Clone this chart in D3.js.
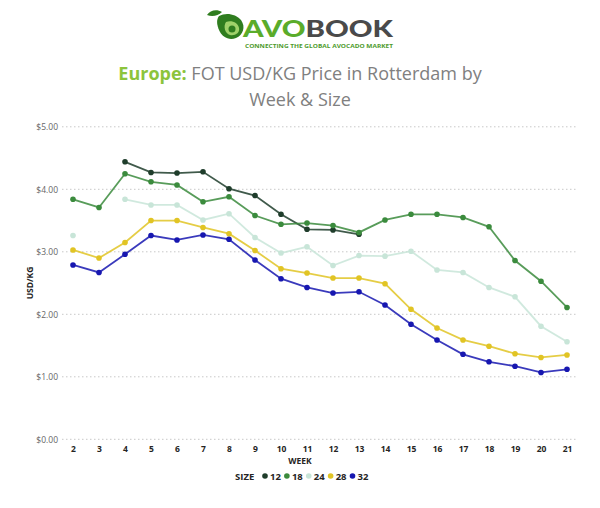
<!DOCTYPE html>
<html>
<head>
<meta charset="utf-8">
<script src="https://cdn.jsdelivr.net/npm/d3@7"></script>
<style>
  body { margin: 0; background: #fff; }
  svg { display: block; font-family: "Open Sans", "Noto Sans", sans-serif; }
</style>
</head>
<body>
<div id="chart"></div>
<script>
// chart data
var weeks = [2, 3, 4, 5, 6, 7, 8, 9, 10, 11, 12, 13, 14, 15, 16, 17, 18, 19, 20, 21];
var sizes = ["12", "18", "24", "28", "32"];
var size12 = [null, null, 4.44, 4.27, 4.26, 4.28, 4.01, 3.90, 3.60, 3.36, 3.35, 3.28, null, null, null, null, null, null, null, null];
var size18 = [3.84, 3.71, 4.25, 4.12, 4.07, 3.80, 3.88, 3.58, 3.44, 3.46, 3.42, 3.31, 3.51, 3.60, 3.60, 3.55, 3.40, 2.86, 2.53, 2.11];
var size24 = [3.26, null, 3.84, 3.75, 3.75, 3.51, 3.61, 3.23, 2.98, 3.08, 2.78, 2.94, 2.93, 3.01, 2.71, 2.67, 2.43, 2.28, 1.81, 1.56];
var size28 = [3.03, 2.90, 3.15, 3.50, 3.50, 3.39, 3.29, 3.02, 2.73, 2.66, 2.58, 2.58, 2.49, 2.08, 1.78, 1.59, 1.49, 1.37, 1.31, 1.35];
var size32 = [2.79, 2.67, 2.96, 3.26, 3.19, 3.27, 3.20, 2.87, 2.57, 2.43, 2.34, 2.36, 2.15, 1.84, 1.59, 1.36, 1.24, 1.17, 1.07, 1.12];
var yTicks = [0, 1, 2, 3, 4, 5];

var seriesValues = [size12, size18, size24, size28, size32];
var colors = ["#1f3d2b", "#3b8b3d", "#c8e5d8", "#e1c424", "#1717b0"];

var W = 600, H = 508;
var margin = {top: 127, right: 24, bottom: 69, left: 62};

var svg = d3.select("#chart")
  .append("svg")
    .attr("width", W)
    .attr("height", H);

// logo
var logo = svg.append("g");
logo.append("path")
  .attr("d", "M207,15 C210,10 217,9 222,12 C218,16 212,17 207,15 Z")
  .style("fill", "#2f7d1f");
logo.append("path")
  .attr("d", "M219,16 C226,12 236,14 241,20 C246,27 243,35 236,38 C229,41 222,37 219,30 C217,25 216,20 219,16 Z")
  .style("fill", "#2f7d1f");
logo.append("path")
  .attr("d", "M226,22 C232,20 238,23 239,28 C240,33 235,36 230,35 C225,34 223,26 226,22 Z")
  .style("fill", "#9fd16a");
logo.append("circle")
  .attr("cx", 232).attr("cy", 29).attr("r", 3.5)
  .style("fill", "#2f7d1f");
var logoText = logo.append("text")
  .attr("x", 243)
  .attr("y", 36.5)
  .attr("textLength", 150)
  .attr("lengthAdjust", "spacingAndGlyphs")
  .style("font-family", "Lato, 'Open Sans', sans-serif")
  .style("font-weight", "900")
  .style("font-size", "22px");
logoText.append("tspan").text("AVO").style("fill", "#5aac2a");
logoText.append("tspan").text("BOOK").style("fill", "#4a4a4a");
logo.append("text")
  .attr("x", 245)
  .attr("y", 47.5)
  .attr("textLength", 148)
  .attr("lengthAdjust", "spacingAndGlyphs")
  .style("font-weight", "700")
  .style("font-size", "5.6px")
  .style("fill", "#4c9a2a")
  .text("CONNECTING THE GLOBAL AVOCADO MARKET");

// title
var title = svg.append("text")
  .attr("x", 300)
  .attr("y", 80)
  .attr("text-anchor", "middle")
  .style("font-size", "18px")
  .style("fill", "#808080");
title.append("tspan").text("Europe:").style("font-weight", "700").style("fill", "#8cc43c");
title.append("tspan").text(" FOT USD/KG Price in Rotterdam by");
svg.append("text")
  .attr("x", 300)
  .attr("y", 106)
  .attr("text-anchor", "middle")
  .style("font-size", "18px")
  .style("fill", "#808080")
  .text("Week & Size");

// scales
var x = d3.scalePoint()
  .domain(weeks)
  .range([73, 567]);

var y = d3.scaleLinear()
  .domain([0, 5])
  .range([439.3, 126.8]);

// gridlines
svg.append("g")
  .selectAll("line")
  .data(yTicks)
  .enter()
  .append("line")
    .attr("x1", margin.left)
    .attr("x2", W - margin.right)
    .attr("y1", function(d) { return y(d); })
    .attr("y2", function(d) { return y(d); })
    .style("stroke", "#c8c8c8")
    .style("stroke-width", 1)
    .style("stroke-dasharray", "1.5,2.5");

// Y axis
var yAxis = svg.append("g")
  .attr("transform", "translate(" + (margin.left - 4) + ",0)")
  .call(d3.axisLeft(y).tickValues(yTicks).tickSize(0).tickPadding(0)
    .tickFormat(function(d) { return "$" + d3.format(".2f")(d); }));
yAxis.select(".domain").remove();
yAxis.selectAll("text")
  .style("font-family", "'Open Sans', sans-serif")
  .style("font-size", "8.5px")
  .style("fill", "#666");

// X axis
var xAxis = svg.append("g")
  .attr("transform", "translate(0," + 443 + ")")
  .call(d3.axisBottom(x).tickSize(0).tickPadding(3));
xAxis.select(".domain").remove();
xAxis.selectAll("text")
  .style("font-family", "'Open Sans', sans-serif")
  .style("font-size", "8.5px")
  .style("font-weight", "700")
  .style("fill", "#252423");

// axis titles
svg.append("text")
  .attr("x", 300)
  .attr("y", 464)
  .attr("text-anchor", "middle")
  .style("font-size", "8.5px")
  .style("font-weight", "700")
  .style("fill", "#252423")
  .text("WEEK");

svg.append("text")
  .attr("transform", "translate(33," + 283 + ")rotate(-90)")
  .attr("text-anchor", "middle")
  .style("font-size", "8.5px")
  .style("font-weight", "700")
  .style("fill", "#252423")
  .text("USD/KG");

// lines and dots
var line = d3.line()
  .defined(function(d) { return d.v != null; })
  .x(function(d) { return x(d.w); })
  .y(function(d) { return y(d.v); });

seriesValues.forEach(function(vals, i) {
  var pts = weeks.map(function(w, j) { return {w: w, v: vals[j]}; });
  svg.append("path")
    .datum(pts)
    .attr("d", line)
    .style("fill", "none")
    .style("stroke", colors[i])
    .style("stroke-width", 1.8)
    .style("opacity", 0.85);
  svg.append("g")
    .selectAll("circle")
    .data(pts.filter(function(d) { return d.v != null; }))
    .enter()
    .append("circle")
      .attr("cx", function(d) { return x(d.w); })
      .attr("cy", function(d) { return y(d.v); })
      .attr("r", 2.8)
      .style("fill", colors[i]);
});

// legend
var legend = svg.append("g").attr("transform", "translate(235,476)");
legend.append("text")
  .attr("x", 0)
  .attr("y", 3.5)
  .style("font-size", "9.5px")
  .style("font-weight", "700")
  .style("fill", "#252423")
  .text("SIZE");
var lx = 30;
sizes.forEach(function(s, i) {
  legend.append("circle")
    .attr("cx", lx).attr("cy", 0).attr("r", 2.8)
    .style("fill", colors[i]);
  var t = legend.append("text")
    .attr("x", lx + 5)
    .attr("y", 3.5)
    .style("font-size", "9.5px")
    .style("font-weight", "700")
    .style("fill", "#252423")
    .text(s);
  lx += 5 + t.node().getComputedTextLength() + 6;
});
</script>
</body>
</html>
